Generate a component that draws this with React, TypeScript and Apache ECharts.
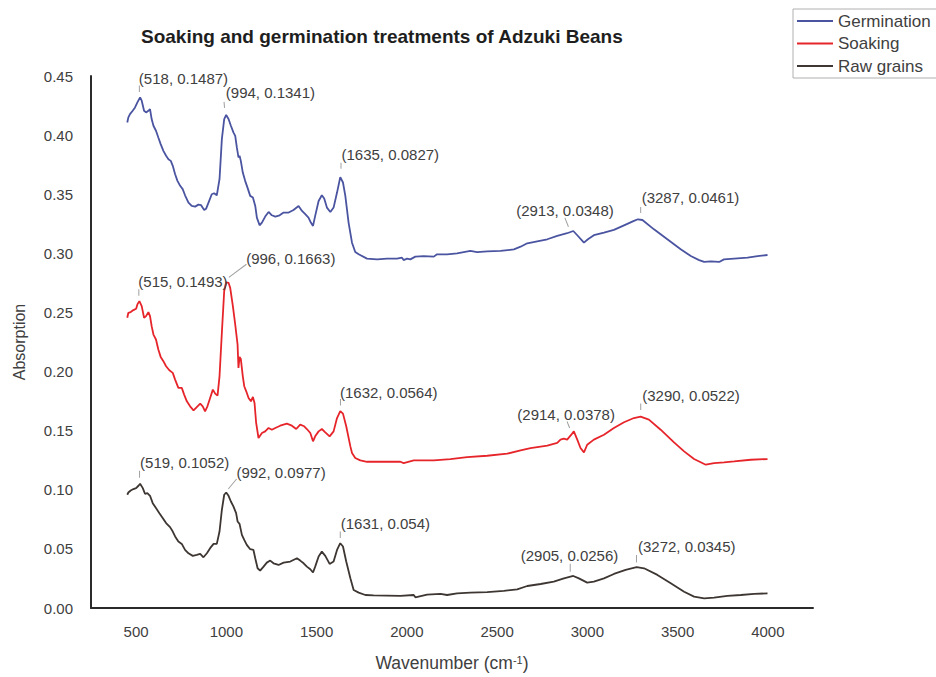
import React, { useEffect, useRef } from "react";
import * as echarts from "echarts";

// ---------- Data (wavenumber in cm^-1, plotted absorption incl. vertical offset) ----------
const germWavenumber = [451, 457, 466, 481, 494, 507, 522, 531, 544, 555, 568, 577, 586, 596, 610, 623, 636, 651, 666, 679, 692, 703, 716, 729, 744, 758, 771, 790, 808, 827, 845, 860, 877, 888, 901, 919, 932, 947, 962, 975, 988, 999, 1012, 1025, 1039, 1049, 1058, 1067, 1073, 1080, 1091, 1104, 1117, 1132, 1147, 1160, 1169, 1184, 1197, 1215, 1234, 1252, 1271, 1295, 1317, 1345, 1372, 1400, 1419, 1437, 1455, 1468, 1480, 1492, 1511, 1529, 1542, 1557, 1576, 1594, 1613, 1631, 1646, 1659, 1677, 1696, 1714, 1733, 1779, 1835, 1890, 1945, 1973, 1982, 2001, 2019, 2047, 2093, 2149, 2167, 2223, 2278, 2315, 2352, 2389, 2445, 2519, 2593, 2630, 2667, 2722, 2778, 2833, 2888, 2922, 2944, 2981, 3003, 3036, 3092, 3147, 3203, 3258, 3280, 3305, 3369, 3443, 3517, 3573, 3619, 3647, 3684, 3730, 3757, 3813, 3887, 3943, 3998];
const germAbs = [0.4107, 0.415, 0.4178, 0.4206, 0.4234, 0.4277, 0.4319, 0.4291, 0.4206, 0.4192, 0.4206, 0.422, 0.4136, 0.4079, 0.4037, 0.398, 0.3924, 0.3867, 0.3825, 0.3796, 0.3782, 0.374, 0.3669, 0.3613, 0.3571, 0.3543, 0.3491, 0.3429, 0.3401, 0.3395, 0.3412, 0.3407, 0.3367, 0.3378, 0.3429, 0.35, 0.3508, 0.3491, 0.3627, 0.3966, 0.4136, 0.417, 0.4136, 0.4079, 0.4023, 0.3994, 0.3896, 0.3811, 0.3825, 0.3782, 0.3683, 0.3613, 0.3556, 0.3486, 0.3472, 0.3401, 0.3302, 0.3237, 0.326, 0.3311, 0.335, 0.3322, 0.3311, 0.3322, 0.3345, 0.3345, 0.3367, 0.3401, 0.3359, 0.3331, 0.3302, 0.326, 0.3232, 0.3317, 0.3443, 0.3491, 0.3463, 0.3387, 0.335, 0.3387, 0.3514, 0.3645, 0.3599, 0.3486, 0.326, 0.309, 0.3011, 0.2992, 0.2955, 0.2949, 0.2955, 0.2955, 0.2963, 0.2943, 0.2955, 0.2949, 0.2972, 0.2977, 0.2972, 0.2992, 0.2992, 0.3, 0.3011, 0.302, 0.3011, 0.3017, 0.302, 0.3034, 0.3056, 0.3085, 0.3102, 0.3119, 0.3147, 0.317, 0.3189, 0.3153, 0.309, 0.3119, 0.3153, 0.3175, 0.3198, 0.3237, 0.3274, 0.3288, 0.3282, 0.3203, 0.3119, 0.3034, 0.2977, 0.2943, 0.2927, 0.2932, 0.2927, 0.2949, 0.2955, 0.2963, 0.2977, 0.2986];

const soakWavenumber = [451, 457, 470, 485, 500, 507, 518, 531, 544, 555, 568, 577, 586, 596, 610, 623, 636, 651, 666, 684, 703, 716, 734, 753, 766, 781, 799, 818, 836, 855, 869, 882, 895, 910, 925, 938, 951, 962, 975, 988, 999, 1012, 1021, 1036, 1049, 1062, 1067, 1073, 1080, 1091, 1099, 1110, 1123, 1136, 1147, 1156, 1165, 1178, 1197, 1215, 1234, 1252, 1271, 1298, 1335, 1363, 1387, 1409, 1431, 1446, 1465, 1480, 1492, 1511, 1529, 1548, 1572, 1594, 1613, 1631, 1646, 1664, 1687, 1696, 1714, 1742, 1779, 1872, 1964, 1982, 2038, 2149, 2241, 2334, 2445, 2556, 2630, 2685, 2778, 2833, 2851, 2870, 2888, 2911, 2925, 2944, 2962, 2981, 2999, 3036, 3092, 3147, 3203, 3258, 3295, 3341, 3406, 3480, 3536, 3591, 3656, 3702, 3757, 3813, 3905, 3998];
const soakAbs = [0.2455, 0.2497, 0.2503, 0.252, 0.2531, 0.2568, 0.2596, 0.2554, 0.2455, 0.2469, 0.2503, 0.2469, 0.2384, 0.2313, 0.2271, 0.2186, 0.2124, 0.2088, 0.2045, 0.2011, 0.1989, 0.1932, 0.1862, 0.1862, 0.1805, 0.1748, 0.1706, 0.1672, 0.17, 0.1729, 0.1706, 0.1664, 0.1706, 0.1776, 0.1847, 0.1813, 0.1796, 0.196, 0.2328, 0.2681, 0.2755, 0.2751, 0.2709, 0.2554, 0.2398, 0.2229, 0.2031, 0.2124, 0.2107, 0.196, 0.1876, 0.1833, 0.1776, 0.1748, 0.1785, 0.1734, 0.1565, 0.1438, 0.148, 0.1494, 0.1523, 0.1508, 0.1523, 0.1542, 0.1559, 0.1542, 0.1514, 0.1551, 0.1537, 0.1514, 0.148, 0.141, 0.1452, 0.1494, 0.1514, 0.1486, 0.1452, 0.1494, 0.1607, 0.1666, 0.1644, 0.1537, 0.1367, 0.1311, 0.1269, 0.1249, 0.1237, 0.1237, 0.1237, 0.1226, 0.1249, 0.1249, 0.126, 0.1277, 0.1288, 0.1305, 0.1334, 0.1353, 0.1373, 0.1396, 0.1424, 0.1432, 0.1424, 0.1466, 0.1494, 0.1424, 0.1353, 0.1316, 0.1381, 0.1424, 0.1466, 0.1522, 0.1571, 0.1607, 0.1618, 0.1593, 0.1508, 0.1401, 0.1325, 0.126, 0.1212, 0.1226, 0.1232, 0.124, 0.1254, 0.126];

const rawWavenumber = [451, 457, 470, 485, 500, 513, 522, 537, 549, 562, 577, 592, 610, 629, 648, 666, 688, 703, 716, 734, 753, 771, 790, 814, 836, 855, 873, 892, 910, 929, 947, 962, 975, 988, 999, 1012, 1025, 1039, 1054, 1062, 1073, 1086, 1099, 1113, 1132, 1150, 1160, 1173, 1187, 1206, 1224, 1243, 1261, 1289, 1317, 1354, 1391, 1409, 1428, 1446, 1465, 1480, 1492, 1511, 1529, 1548, 1572, 1594, 1613, 1631, 1646, 1664, 1687, 1705, 1733, 1770, 1816, 1890, 1964, 2038, 2047, 2112, 2186, 2223, 2278, 2352, 2445, 2537, 2611, 2667, 2741, 2814, 2870, 2922, 2953, 2999, 3036, 3092, 3147, 3212, 3273, 3314, 3388, 3462, 3536, 3591, 3647, 3702, 3776, 3850, 3924, 3998];
const rawAbs = [0.0958, 0.0977, 0.0994, 0.1006, 0.1014, 0.1034, 0.1051, 0.1014, 0.0966, 0.0972, 0.0949, 0.0887, 0.0845, 0.0802, 0.076, 0.0718, 0.0684, 0.0647, 0.0605, 0.0562, 0.0542, 0.0492, 0.0463, 0.0441, 0.0449, 0.0458, 0.0429, 0.0463, 0.0506, 0.0542, 0.0542, 0.0647, 0.083, 0.0958, 0.0977, 0.0949, 0.0901, 0.0859, 0.0802, 0.0732, 0.0712, 0.0619, 0.0576, 0.0534, 0.0497, 0.0491, 0.0421, 0.0336, 0.0316, 0.035, 0.0384, 0.0401, 0.0378, 0.0364, 0.0384, 0.0393, 0.0421, 0.0401, 0.0378, 0.035, 0.0328, 0.03, 0.035, 0.0435, 0.0477, 0.0441, 0.0373, 0.0393, 0.0491, 0.0548, 0.052, 0.0393, 0.0251, 0.0152, 0.013, 0.011, 0.0107, 0.0105, 0.0102, 0.011, 0.009, 0.0113, 0.0119, 0.011, 0.0124, 0.013, 0.0135, 0.0144, 0.0158, 0.0186, 0.0203, 0.0223, 0.0251, 0.0271, 0.0251, 0.0215, 0.0223, 0.0251, 0.0288, 0.0322, 0.0345, 0.0336, 0.028, 0.0209, 0.0138, 0.0096, 0.0082, 0.0088, 0.0102, 0.011, 0.0119, 0.0124];

// Peak annotations (raw absorption values as labelled) and vertical offsets of each trace
const germPeakX = [518, 994, 1635, 2913, 3287];
const germPeakV = [0.1487, 0.1341, 0.0827, 0.0348, 0.0461];
const soakPeakX = [515, 996, 1632, 2914, 3290];
const soakPeakV = [0.1493, 0.1663, 0.0564, 0.0378, 0.0522];
const rawPeakX = [519, 992, 1631, 2905, 3272];
const rawPeakV = [0.1052, 0.0977, 0.054, 0.0256, 0.0345];
const germOffset = 0.283;
const soakOffset = 0.11;
const rawOffset = 0;

const seriesNames = ["Germination", "Soaking", "Raw grains"];
const xTicks = [500, 1000, 1500, 2000, 2500, 3000, 3500, 4000];

// ---------- Layout of annotation labels (pixel offsets) ----------
// label: [dx, dy] of text left/middle; lead: [dx, dy, length, rotateDeg]
const germLayout = [
  { label: [-1, -19], lead: [0, -9, 6.5, 0] },
  { label: [0, -22], lead: [-1, -10, 6, 5] },
  { label: [0, -21], lead: [0, -10, 6, 0] },
  { label: [-56, -22], lead: [-5, -10, 9.5, 22] },
  { label: [2, -21], lead: [1.5, -9, 6, 0] },
];
const soakLayout = [
  { label: [-1, -20], lead: [0, -9, 6.5, 0] },
  { label: [20, -23], lead: [12, -10.5, 22, -53] },
  { label: [-1, -19], lead: [0, -9, 6.5, 0] },
  { label: [-55, -19], lead: [-3.5, -8.5, 7, 22] },
  { label: [2, -21], lead: [1, -9.5, 6.5, 0] },
];
const rawLayout = [
  { label: [0, -21], lead: [0, -9.5, 7, 0] },
  { label: [11, -20], lead: [7.5, -8.5, 13, -40] },
  { label: [0, -21], lead: [0, -9.5, 6.5, 0] },
  { label: [-50, -22], lead: [0, -10, 8, 0] },
  { label: [1, -21], lead: [0, -8.5, 7.5, 0] },
];

const COLORS = ["#4a54a0", "#e6252b", "#3d3632"];
const TEXT = "#404040";

function pairs(xs: number[], ys: number[]) {
  return xs.map((x, i) => [x, ys[i]]);
}

function marks(px: number[], pv: number[], offset: number, layout: any[]) {
  const data: any[] = [];
  px.forEach((x, i) => {
    const coord = [x, pv[i] + offset];
    const L = layout[i];
    data.push({
      coord,
      symbol: "rect",
      symbolSize: [1, L.lead[2]],
      symbolOffset: [L.lead[0], L.lead[1]],
      symbolRotate: L.lead[3],
      itemStyle: { color: "#a0a0a0" },
      label: { show: false },
    });
    data.push({
      coord,
      symbol: "circle",
      symbolSize: 1,
      itemStyle: { color: "transparent" },
      label: {
        show: true,
        position: "right",
        distance: 0,
        offset: L.label,
        formatter: "(" + x + ", " + pv[i] + ")",
        color: TEXT,
        fontSize: 15,
        fontFamily: "Liberation Sans, Arial, sans-serif",
      },
    });
  });
  return { silent: true, animation: false, data };
}

export default function App() {
  const ref = useRef<HTMLDivElement>(null);
  useEffect(() => {
    document.body.style.margin = "0";
    const chart = echarts.init(ref.current!, null, { renderer: "svg" });
    const font = "Liberation Sans, Arial, sans-serif";
    const lineSeries = (name: string, xs: number[], ys: number[], color: string, mp: any) => ({
      name,
      type: "line",
      data: pairs(xs, ys),
      showSymbol: false,
      symbol: "none",
      smooth: false,
      lineStyle: { color, width: 1.8 },
      itemStyle: { color },
      markPoint: mp,
      z: 2,
    });
    chart.setOption({
      animation: false,
      backgroundColor: "#ffffff",
      textStyle: { fontFamily: font },
      title: {
        text: "Soaking and germination treatments of Adzuki Beans",
        left: 136,
        top: 22,
        textStyle: { fontSize: 19, fontWeight: "bold", color: "#1e1e1e", fontFamily: font },
      },
      legend: {
        orient: "vertical",
        left: 793,
        top: 9,
        data: seriesNames,
        icon: "rect",
        itemWidth: 36,
        itemHeight: 2,
        itemGap: 2.5,
        padding: [2, 6, 2, 4],
        borderColor: "#b0b0b0",
        borderWidth: 1,
        textStyle: { fontSize: 17, color: TEXT, lineHeight: 20 },
      },
      grid: { left: 91, right: 123, top: 76, bottom: 69, containLabel: false },
      xAxis: {
        type: "value",
        min: 250,
        max: 4250,
        interval: 250,
        name: "Wavenumber (cm{sup|-1})",
        nameLocation: "middle",
        nameGap: 46,
        nameTextStyle: {
          fontSize: 17.5,
          color: TEXT,
          rich: { sup: { fontSize: 11, verticalAlign: "top", color: TEXT, padding: [0, 0, 7, 0] } },
        },
        axisLine: { lineStyle: { color: "#2b2b2b", width: 2 } },
        axisTick: { show: false },
        splitLine: { show: false },
        axisLabel: {
          fontSize: 15,
          color: TEXT,
          margin: 16,
          formatter: (v: number) => (xTicks.indexOf(v) >= 0 ? String(v) : ""),
        },
      },
      yAxis: {
        type: "value",
        min: 0,
        max: 0.45,
        interval: 0.05,
        name: "Absorption",
        nameLocation: "middle",
        nameGap: 64,
        nameTextStyle: { fontSize: 16, color: TEXT },
        axisLine: { show: true, lineStyle: { color: "#2b2b2b", width: 2 } },
        axisTick: { show: false },
        splitLine: { show: false },
        axisLabel: {
          fontSize: 15,
          color: TEXT,
          margin: 18,
          formatter: (v: number) => v.toFixed(2),
        },
      },
      series: [
        lineSeries(seriesNames[0], germWavenumber, germAbs, COLORS[0], marks(germPeakX, germPeakV, germOffset, germLayout)),
        lineSeries(seriesNames[1], soakWavenumber, soakAbs, COLORS[1], marks(soakPeakX, soakPeakV, soakOffset, soakLayout)),
        lineSeries(seriesNames[2], rawWavenumber, rawAbs, COLORS[2], marks(rawPeakX, rawPeakV, rawOffset, rawLayout)),
      ],
    });
    return () => chart.dispose();
  }, []);
  return (
    <div
      ref={ref}
      style={{ position: "absolute", left: 0, top: 0, width: 936, height: 677, background: "#fff" }}
    />
  );
}
